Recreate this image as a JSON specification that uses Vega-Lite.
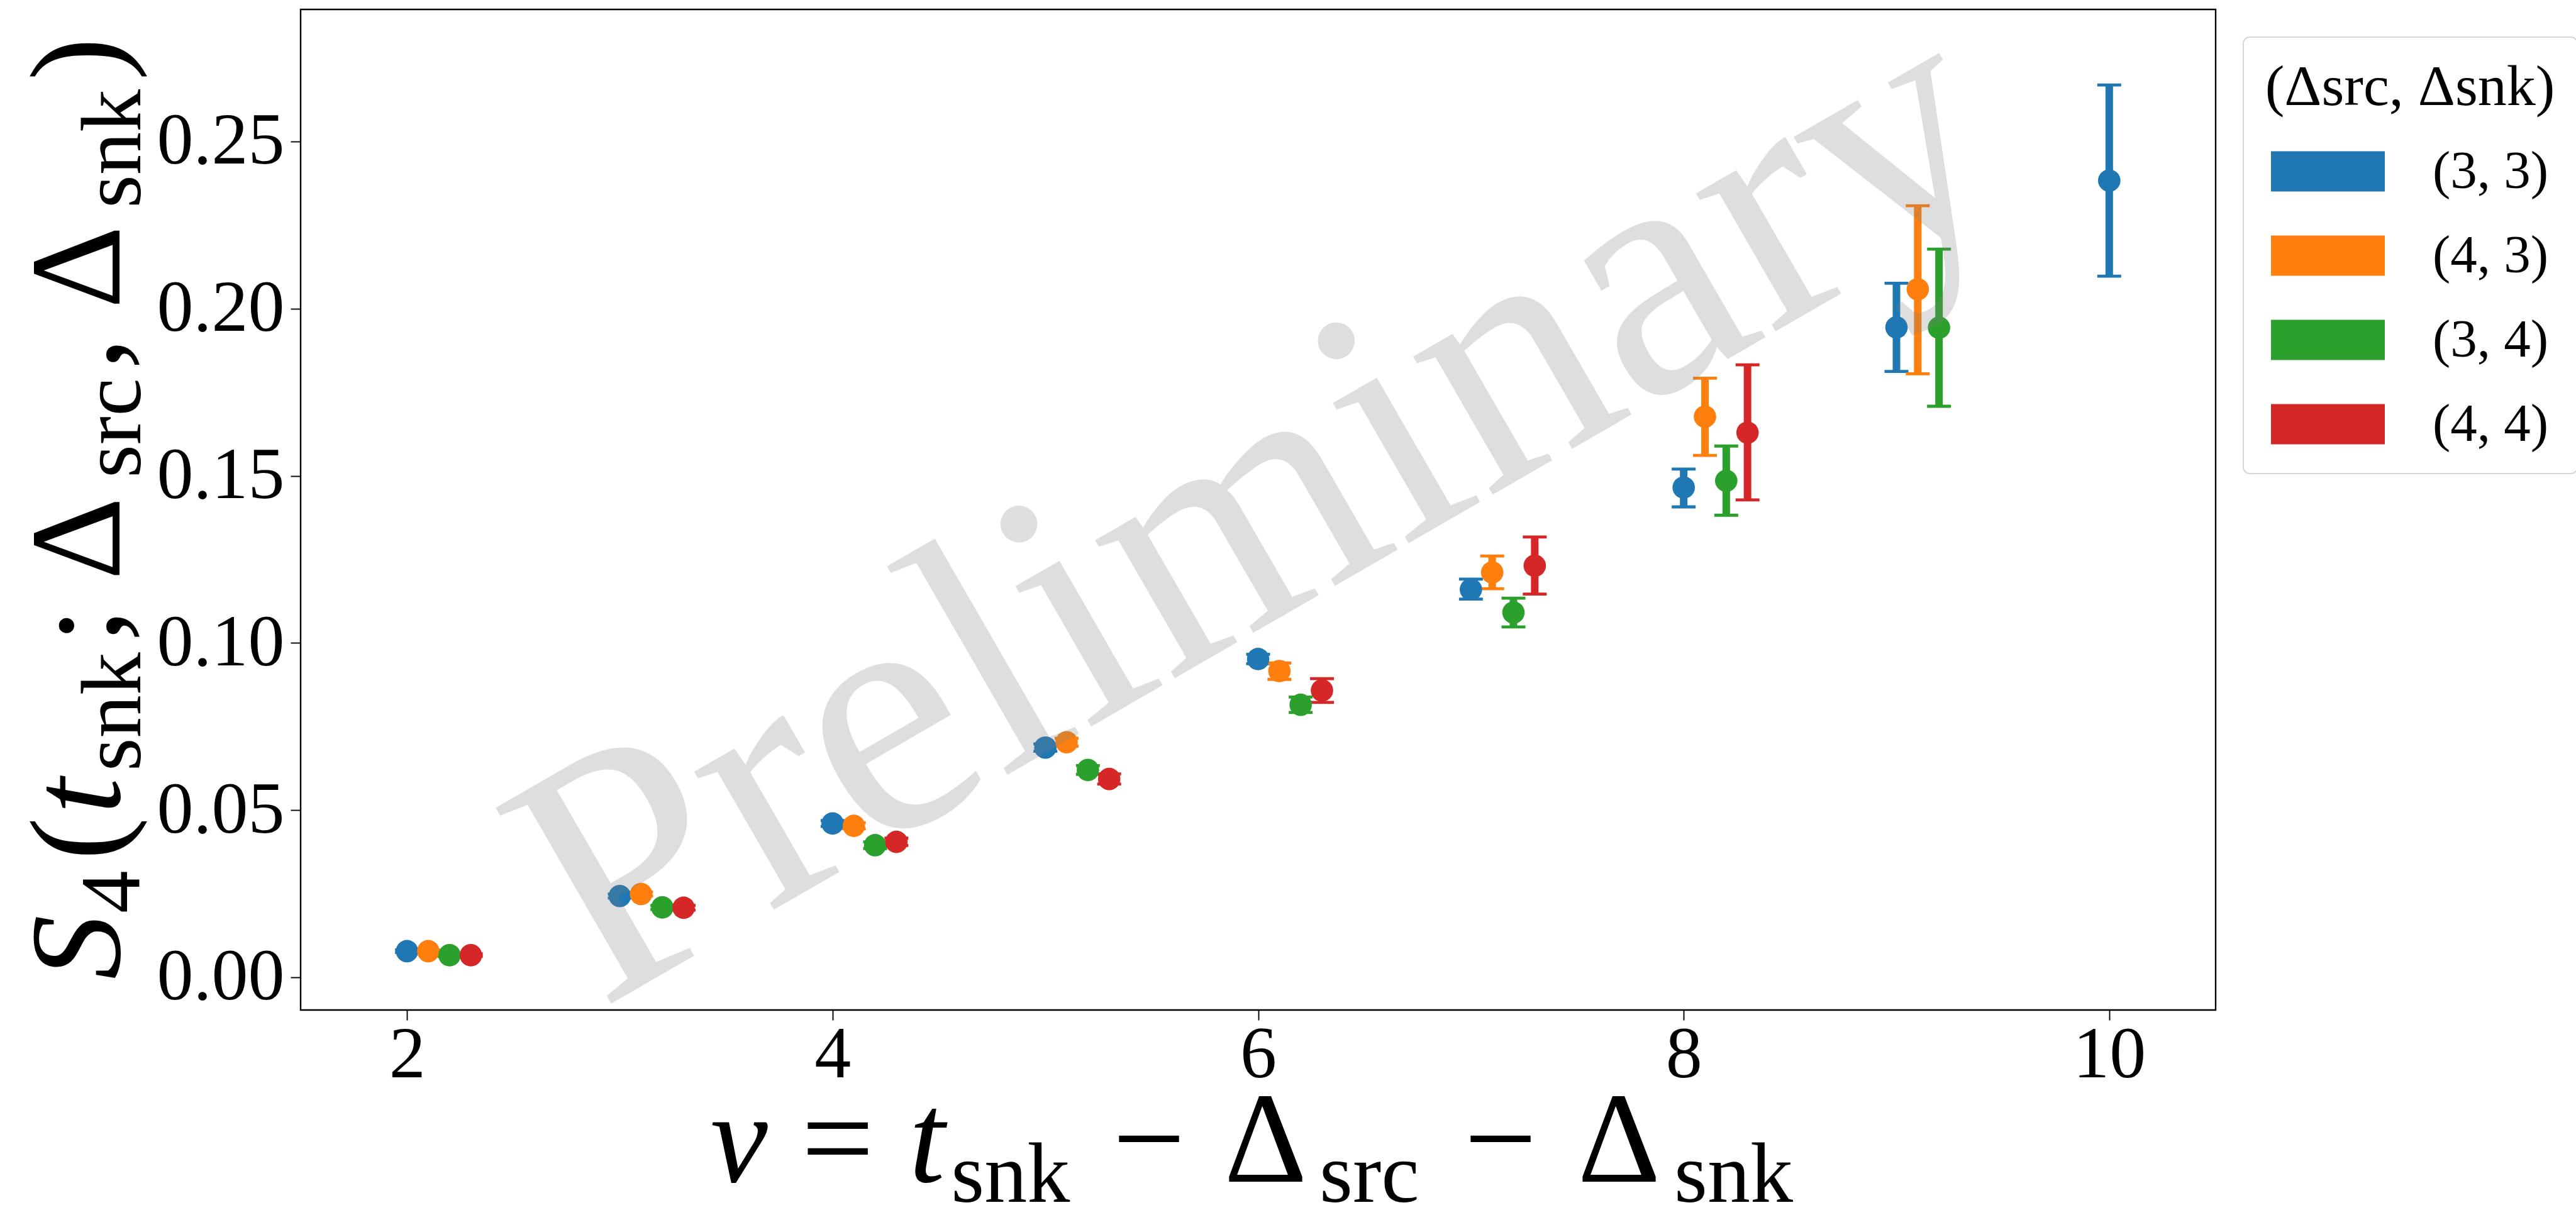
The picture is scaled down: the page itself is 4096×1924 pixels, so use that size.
{
  "$schema": "https://vega.github.io/schema/vega-lite/v6.json",
  "width": 3045,
  "height": 1591,
  "autosize": {"type": "none"},
  "padding": {"left": 478, "top": 15, "right": 573, "bottom": 318},
  "background": "white",
  "config": {
    "view": {"stroke": "black", "strokeWidth": 2.4},
    "axis": {"domain": false, "grid": false, "tickColor": "black", "tickWidth": 1.9, "tickSize": 16, "labelFont": "Liberation Serif", "labelFontSize": 116, "labelColor": "black", "labelFlush": false, "labelOverlap": false, "labelLimit": 1000},
    "text": {"font": "Liberation Serif", "color": "black"}
  },
  "layer": [
    {
      "data": {"values": [
        {"x": 2.0, "g": "(3, 3)", "S": 0.0078, "lo": 0.0074, "hi": 0.0082},
        {"x": 2.1, "g": "(4, 3)", "S": 0.0078, "lo": 0.0074, "hi": 0.0082},
        {"x": 2.2, "g": "(3, 4)", "S": 0.0066, "lo": 0.0062, "hi": 0.0070},
        {"x": 2.3, "g": "(4, 4)", "S": 0.0066, "lo": 0.0062, "hi": 0.0070},
        {"x": 3.0, "g": "(3, 3)", "S": 0.0243, "lo": 0.0237, "hi": 0.0249},
        {"x": 3.1, "g": "(4, 3)", "S": 0.0249, "lo": 0.0243, "hi": 0.0255},
        {"x": 3.2, "g": "(3, 4)", "S": 0.0209, "lo": 0.0203, "hi": 0.0215},
        {"x": 3.3, "g": "(4, 4)", "S": 0.0208, "lo": 0.0201, "hi": 0.0215},
        {"x": 4.0, "g": "(3, 3)", "S": 0.0460, "lo": 0.0451, "hi": 0.0469},
        {"x": 4.1, "g": "(4, 3)", "S": 0.0453, "lo": 0.0444, "hi": 0.0462},
        {"x": 4.2, "g": "(3, 4)", "S": 0.0395, "lo": 0.0385, "hi": 0.0405},
        {"x": 4.3, "g": "(4, 4)", "S": 0.0405, "lo": 0.0394, "hi": 0.0416},
        {"x": 5.0, "g": "(3, 3)", "S": 0.0687, "lo": 0.0676, "hi": 0.0698},
        {"x": 5.1, "g": "(4, 3)", "S": 0.0703, "lo": 0.0691, "hi": 0.0715},
        {"x": 5.2, "g": "(3, 4)", "S": 0.0620, "lo": 0.0607, "hi": 0.0633},
        {"x": 5.3, "g": "(4, 4)", "S": 0.0593, "lo": 0.0578, "hi": 0.0608},
        {"x": 6.0, "g": "(3, 3)", "S": 0.0952, "lo": 0.0938, "hi": 0.0966},
        {"x": 6.1, "g": "(4, 3)", "S": 0.0916, "lo": 0.0891, "hi": 0.0940},
        {"x": 6.2, "g": "(3, 4)", "S": 0.0815, "lo": 0.0792, "hi": 0.0838},
        {"x": 6.3, "g": "(4, 4)", "S": 0.0858, "lo": 0.0822, "hi": 0.0893},
        {"x": 7.0, "g": "(3, 3)", "S": 0.1160, "lo": 0.1131, "hi": 0.1191},
        {"x": 7.1, "g": "(4, 3)", "S": 0.1211, "lo": 0.1162, "hi": 0.1260},
        {"x": 7.2, "g": "(3, 4)", "S": 0.1091, "lo": 0.1048, "hi": 0.1134},
        {"x": 7.3, "g": "(4, 4)", "S": 0.1231, "lo": 0.1146, "hi": 0.1317},
        {"x": 8.0, "g": "(3, 3)", "S": 0.1465, "lo": 0.1407, "hi": 0.1520},
        {"x": 8.1, "g": "(4, 3)", "S": 0.1677, "lo": 0.1561, "hi": 0.1792},
        {"x": 8.2, "g": "(3, 4)", "S": 0.1485, "lo": 0.1382, "hi": 0.1589},
        {"x": 8.3, "g": "(4, 4)", "S": 0.1629, "lo": 0.1428, "hi": 0.1832},
        {"x": 9.0, "g": "(3, 3)", "S": 0.1944, "lo": 0.1812, "hi": 0.2076},
        {"x": 9.1, "g": "(4, 3)", "S": 0.2058, "lo": 0.1805, "hi": 0.2308},
        {"x": 9.2, "g": "(3, 4)", "S": 0.1943, "lo": 0.1708, "hi": 0.2178},
        {"x": 10.0, "g": "(3, 3)", "S": 0.2383, "lo": 0.2097, "hi": 0.2669}
      ]},
      "encoding": {
        "x": {"field": "x", "type": "quantitative", "scale": {"domain": [1.5, 10.5], "nice": false, "zero": false},
              "axis": {"values": [2, 4, 6, 8, 10], "format": "d", "title": null, "labelPadding": -2}},
        "color": {"field": "g", "type": "nominal",
                  "scale": {"domain": ["(3, 3)", "(4, 3)", "(3, 4)", "(4, 4)"], "range": ["#1f77b4", "#ff7f0e", "#2ca02c", "#d62728"]},
                  "legend": {
                    "orient": "none", "legendX": 3089, "legendY": 44,
                    "title": "(Δsrc, Δsnk)",
                    "titleFont": "Liberation Serif", "titleFontSize": 92, "titleFontWeight": "normal", "titleColor": "black",
                    "titleAnchor": "middle", "titleLimit": 2000, "titlePadding": -4,
                    "labelFont": "Liberation Serif", "labelFontSize": 85, "labelColor": "black", "labelOffset": 76, "labelLimit": 2000,
                    "symbolType": "M-1,-0.354H1V0.354H-1Z", "symbolSize": 32761, "symbolStrokeWidth": 0, "symbolOpacity": 1,
                    "rowPadding": 0, "padding": 35,
                    "strokeColor": "#d6d6d6", "cornerRadius": 10, "fillColor": "white",
                    "encode": {
                      "legend": {"update": {"strokeWidth": {"value": 2}}},
                      "symbols": {"update": {"fill": {"scale": "color", "field": "value"}, "stroke": {"value": "transparent"}, "opacity": {"value": 1}}}
                    }
                  }}
      },
      "layer": [
        {"mark": {"type": "rule", "strokeWidth": 12},
         "encoding": {"y": {"field": "lo", "type": "quantitative", "scale": {"domain": [-0.0098, 0.2895], "nice": false, "zero": false},
                            "axis": {"values": [0, 0.05, 0.1, 0.15, 0.2, 0.25], "format": ".2f", "title": null, "labelPadding": 10}},
                      "y2": {"field": "hi"}}},
        {"mark": {"type": "tick", "orient": "horizontal", "size": 38, "thickness": 4.8, "opacity": 1},
         "encoding": {"y": {"field": "lo", "type": "quantitative"}}},
        {"mark": {"type": "tick", "orient": "horizontal", "size": 38, "thickness": 4.8, "opacity": 1},
         "encoding": {"y": {"field": "hi", "type": "quantitative"}}},
        {"mark": {"type": "point", "filled": true, "shape": "circle", "size": 1270, "opacity": 1, "strokeWidth": 0},
         "encoding": {"y": {"field": "S", "type": "quantitative"}}}
      ]
    },
    {"data": {"values": [{}]},
     "mark": {"type": "text", "text": "Preliminary", "font": "Liberation Serif", "fontSize": 552, "color": "#808080", "opacity": 0.25, "angle": -30, "align": "center", "baseline": "middle"},
     "encoding": {"x": {"datum": 6, "type": "quantitative", "title": null}, "y": {"datum": 0.1399, "type": "quantitative", "title": null}}},

    {"data": {"values": [{}]}, "mark": {"type": "text", "text": "v", "fontSize": 205, "fontStyle": "italic", "align": "center", "baseline": "alphabetic"},
     "encoding": {"x": {"datum": 3.5607, "type": "quantitative", "title": null}, "y": {"datum": -0.0611, "type": "quantitative", "title": null}}},
    {"data": {"values": [{}]}, "mark": {"type": "text", "text": "=", "fontSize": 205, "align": "center", "baseline": "alphabetic"},
     "encoding": {"x": {"datum": 4.024, "type": "quantitative", "title": null}, "y": {"datum": -0.0611, "type": "quantitative", "title": null}}},
    {"data": {"values": [{}]}, "mark": {"type": "text", "text": "t", "fontSize": 205, "fontStyle": "italic", "align": "center", "baseline": "alphabetic"},
     "encoding": {"x": {"datum": 4.4435, "type": "quantitative", "title": null}, "y": {"datum": -0.0611, "type": "quantitative", "title": null}}},
    {"data": {"values": [{}]}, "mark": {"type": "text", "text": "snk", "fontSize": 136, "align": "center", "baseline": "alphabetic"},
     "encoding": {"x": {"datum": 4.8362, "type": "quantitative", "title": null}, "y": {"datum": -0.06722, "type": "quantitative", "title": null}}},
    {"data": {"values": [{}]}, "mark": {"type": "text", "text": "−", "fontSize": 205, "align": "center", "baseline": "alphabetic"},
     "encoding": {"x": {"datum": 5.4873, "type": "quantitative", "title": null}, "y": {"datum": -0.0611, "type": "quantitative", "title": null}}},
    {"data": {"values": [{}]}, "mark": {"type": "text", "text": "Δ", "fontSize": 205, "align": "center", "baseline": "alphabetic"},
     "encoding": {"x": {"datum": 6.0353, "type": "quantitative", "title": null}, "y": {"datum": -0.0611, "type": "quantitative", "title": null}}},
    {"data": {"values": [{}]}, "mark": {"type": "text", "text": "src", "fontSize": 136, "align": "center", "baseline": "alphabetic"},
     "encoding": {"x": {"datum": 6.5226, "type": "quantitative", "title": null}, "y": {"datum": -0.06722, "type": "quantitative", "title": null}}},
    {"data": {"values": [{}]}, "mark": {"type": "text", "text": "−", "fontSize": 205, "align": "center", "baseline": "alphabetic"},
     "encoding": {"x": {"datum": 7.1398, "type": "quantitative", "title": null}, "y": {"datum": -0.0611, "type": "quantitative", "title": null}}},
    {"data": {"values": [{}]}, "mark": {"type": "text", "text": "Δ", "fontSize": 205, "align": "center", "baseline": "alphabetic"},
     "encoding": {"x": {"datum": 7.6963, "type": "quantitative", "title": null}, "y": {"datum": -0.0611, "type": "quantitative", "title": null}}},
    {"data": {"values": [{}]}, "mark": {"type": "text", "text": "snk", "fontSize": 136, "align": "center", "baseline": "alphabetic"},
     "encoding": {"x": {"datum": 8.2345, "type": "quantitative", "title": null}, "y": {"datum": -0.06722, "type": "quantitative", "title": null}}},

    {"data": {"values": [{}]}, "mark": {"type": "text", "text": "S", "fontSize": 205, "fontStyle": "italic", "angle": 270, "align": "center", "baseline": "alphabetic"},
     "encoding": {"x": {"datum": 0.6497, "type": "quantitative", "title": null}, "y": {"datum": 0.00898, "type": "quantitative", "title": null}}},
    {"data": {"values": [{}]}, "mark": {"type": "text", "text": "4", "fontSize": 136, "angle": 270, "align": "center", "baseline": "alphabetic"},
     "encoding": {"x": {"datum": 0.742, "type": "quantitative", "title": null}, "y": {"datum": 0.02553, "type": "quantitative", "title": null}}},
    {"data": {"values": [{}]}, "mark": {"type": "text", "text": "(", "fontSize": 205, "angle": 270, "align": "center", "baseline": "alphabetic"},
     "encoding": {"x": {"datum": 0.6497, "type": "quantitative", "title": null}, "y": {"datum": 0.04145, "type": "quantitative", "title": null}}},
    {"data": {"values": [{}]}, "mark": {"type": "text", "text": "t", "fontSize": 205, "fontStyle": "italic", "angle": 270, "align": "center", "baseline": "alphabetic"},
     "encoding": {"x": {"datum": 0.6497, "type": "quantitative", "title": null}, "y": {"datum": 0.05423, "type": "quantitative", "title": null}}},
    {"data": {"values": [{}]}, "mark": {"type": "text", "text": "snk", "fontSize": 136, "angle": 270, "align": "center", "baseline": "alphabetic"},
     "encoding": {"x": {"datum": 0.7458, "type": "quantitative", "title": null}, "y": {"datum": 0.07942, "type": "quantitative", "title": null}}},
    {"data": {"values": [{}]}, "mark": {"type": "text", "text": ";", "fontSize": 205, "angle": 270, "align": "center", "baseline": "alphabetic"},
     "encoding": {"x": {"datum": 0.6497, "type": "quantitative", "title": null}, "y": {"datum": 0.10524, "type": "quantitative", "title": null}}},
    {"data": {"values": [{}]}, "mark": {"type": "text", "text": "Δ", "fontSize": 205, "angle": 270, "align": "center", "baseline": "alphabetic"},
     "encoding": {"x": {"datum": 0.6497, "type": "quantitative", "title": null}, "y": {"datum": 0.13123, "type": "quantitative", "title": null}}},
    {"data": {"values": [{}]}, "mark": {"type": "text", "text": "src", "fontSize": 136, "angle": 270, "align": "center", "baseline": "alphabetic"},
     "encoding": {"x": {"datum": 0.7458, "type": "quantitative", "title": null}, "y": {"datum": 0.16425, "type": "quantitative", "title": null}}},
    {"data": {"values": [{}]}, "mark": {"type": "text", "text": ",", "fontSize": 205, "angle": 270, "align": "center", "baseline": "alphabetic"},
     "encoding": {"x": {"datum": 0.6497, "type": "quantitative", "title": null}, "y": {"datum": 0.18656, "type": "quantitative", "title": null}}},
    {"data": {"values": [{}]}, "mark": {"type": "text", "text": "Δ", "fontSize": 205, "angle": 270, "align": "center", "baseline": "alphabetic"},
     "encoding": {"x": {"datum": 0.6497, "type": "quantitative", "title": null}, "y": {"datum": 0.21238, "type": "quantitative", "title": null}}},
    {"data": {"values": [{}]}, "mark": {"type": "text", "text": "snk", "fontSize": 136, "angle": 270, "align": "center", "baseline": "alphabetic"},
     "encoding": {"x": {"datum": 0.7458, "type": "quantitative", "title": null}, "y": {"datum": 0.24782, "type": "quantitative", "title": null}}},
    {"data": {"values": [{}]}, "mark": {"type": "text", "text": ")", "fontSize": 205, "angle": 270, "align": "center", "baseline": "alphabetic"},
     "encoding": {"x": {"datum": 0.6497, "type": "quantitative", "title": null}, "y": {"datum": 0.27468, "type": "quantitative", "title": null}}}
  ]
}
